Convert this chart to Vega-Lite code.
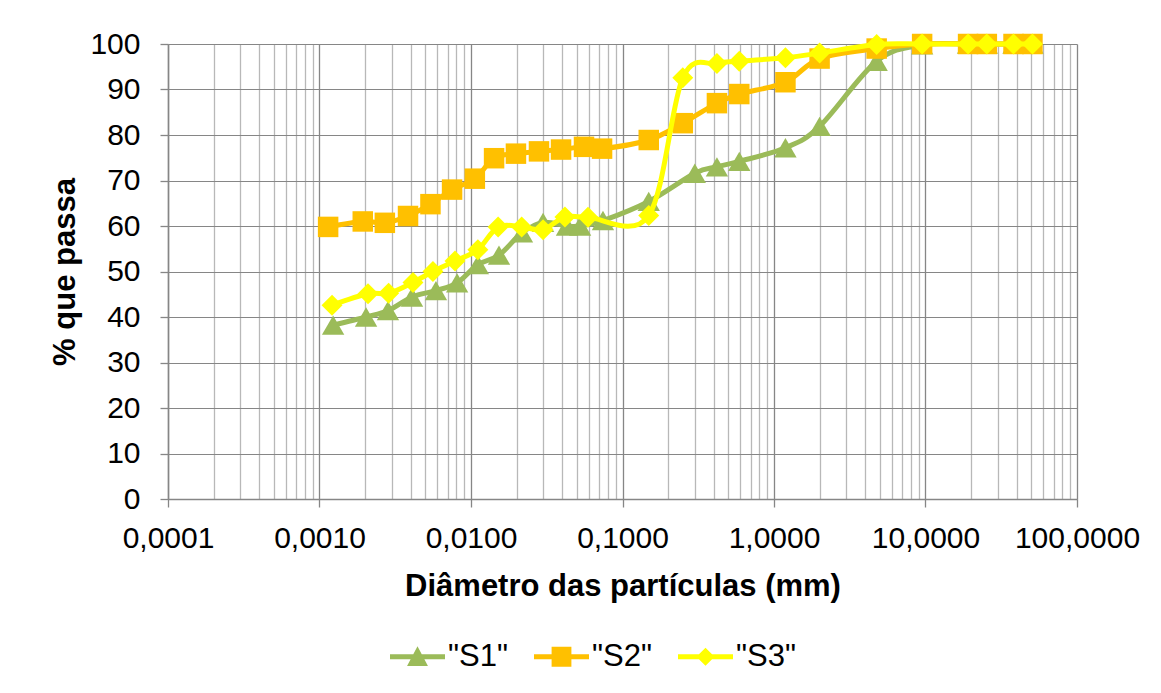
{
  "$schema": "https://vega.github.io/schema/vega-lite/v6.json",
  "width": 909,
  "height": 455,
  "autosize": {"type": "none"},
  "padding": {"left": 168, "top": 44, "right": 84, "bottom": 194},
  "background": "white",
  "config": {"view": {"stroke": null}, "font": "Liberation Sans"},
  "data": {
    "values": [
      {"s": "S1", "d": 0.00123, "p": 38.2},
      {"s": "S1", "d": 0.00203, "p": 40.0},
      {"s": "S1", "d": 0.00283, "p": 41.4},
      {"s": "S1", "d": 0.00408, "p": 44.4},
      {"s": "S1", "d": 0.00587, "p": 45.8},
      {"s": "S1", "d": 0.0081, "p": 47.5},
      {"s": "S1", "d": 0.0111, "p": 51.5},
      {"s": "S1", "d": 0.0153, "p": 53.6},
      {"s": "S1", "d": 0.0217, "p": 58.5},
      {"s": "S1", "d": 0.0299, "p": 60.8},
      {"s": "S1", "d": 0.043, "p": 60.0},
      {"s": "S1", "d": 0.0525, "p": 60.0},
      {"s": "S1", "d": 0.0743, "p": 61.2},
      {"s": "S1", "d": 0.149, "p": 65.4},
      {"s": "S1", "d": 0.30, "p": 71.6},
      {"s": "S1", "d": 0.42, "p": 73.0},
      {"s": "S1", "d": 0.59, "p": 74.2},
      {"s": "S1", "d": 1.19, "p": 77.2},
      {"s": "S1", "d": 2.0, "p": 81.9},
      {"s": "S1", "d": 4.76, "p": 96.2},
      {"s": "S1", "d": 9.5, "p": 99.8},
      {"s": "S1", "d": 19.1, "p": 100},
      {"s": "S1", "d": 25.4, "p": 100},
      {"s": "S1", "d": 38.1, "p": 100},
      {"s": "S1", "d": 50.8, "p": 100},
      {"s": "S2", "d": 0.00114, "p": 59.8},
      {"s": "S2", "d": 0.00193, "p": 61.0},
      {"s": "S2", "d": 0.0027, "p": 60.7},
      {"s": "S2", "d": 0.00384, "p": 62.2},
      {"s": "S2", "d": 0.0054, "p": 64.8},
      {"s": "S2", "d": 0.0075, "p": 68.0},
      {"s": "S2", "d": 0.0106, "p": 70.4},
      {"s": "S2", "d": 0.0142, "p": 74.9},
      {"s": "S2", "d": 0.0198, "p": 75.9},
      {"s": "S2", "d": 0.0281, "p": 76.4},
      {"s": "S2", "d": 0.0393, "p": 76.8},
      {"s": "S2", "d": 0.0557, "p": 77.4},
      {"s": "S2", "d": 0.0733, "p": 77.0},
      {"s": "S2", "d": 0.149, "p": 78.9},
      {"s": "S2", "d": 0.25, "p": 82.6},
      {"s": "S2", "d": 0.42, "p": 87.0},
      {"s": "S2", "d": 0.59, "p": 89.0},
      {"s": "S2", "d": 1.19, "p": 91.6},
      {"s": "S2", "d": 2.0, "p": 96.8},
      {"s": "S2", "d": 4.76, "p": 99.0},
      {"s": "S2", "d": 9.5, "p": 100},
      {"s": "S2", "d": 19.1, "p": 100},
      {"s": "S2", "d": 25.4, "p": 100},
      {"s": "S2", "d": 38.1, "p": 100},
      {"s": "S2", "d": 50.8, "p": 100},
      {"s": "S3", "d": 0.00121, "p": 42.6},
      {"s": "S3", "d": 0.00209, "p": 45.1},
      {"s": "S3", "d": 0.00286, "p": 45.2},
      {"s": "S3", "d": 0.00414, "p": 47.6},
      {"s": "S3", "d": 0.00561, "p": 50.0},
      {"s": "S3", "d": 0.00784, "p": 52.3},
      {"s": "S3", "d": 0.0111, "p": 54.8},
      {"s": "S3", "d": 0.0151, "p": 59.8},
      {"s": "S3", "d": 0.0216, "p": 59.8},
      {"s": "S3", "d": 0.0299, "p": 59.2},
      {"s": "S3", "d": 0.0417, "p": 62.0},
      {"s": "S3", "d": 0.0592, "p": 61.9},
      {"s": "S3", "d": 0.149, "p": 62.3},
      {"s": "S3", "d": 0.25, "p": 92.6},
      {"s": "S3", "d": 0.42, "p": 95.7},
      {"s": "S3", "d": 0.59, "p": 96.2},
      {"s": "S3", "d": 1.19, "p": 97.0},
      {"s": "S3", "d": 2.0, "p": 98.0},
      {"s": "S3", "d": 4.76, "p": 99.9},
      {"s": "S3", "d": 9.5, "p": 100},
      {"s": "S3", "d": 19.1, "p": 100},
      {"s": "S3", "d": 25.4, "p": 100},
      {"s": "S3", "d": 38.1, "p": 100},
      {"s": "S3", "d": 50.8, "p": 100}
    ]
  },
  "layer": [
    {
      "transform": [{"filter": "false"}],
      "mark": {"type": "point"},
      "encoding": {
        "x": {
          "field": "d", "type": "quantitative",
          "scale": {"type": "log", "domain": [0.0001, 100], "nice": false},
          "axis": {
            "orient": "top",
            "values": [0.0002, 0.0003, 0.0004, 0.0005, 0.0006, 0.0007, 0.0008, 0.0009,
                       0.002, 0.003, 0.004, 0.005, 0.006, 0.007, 0.008, 0.009,
                       0.02, 0.03, 0.04, 0.05, 0.06, 0.07, 0.08, 0.09,
                       0.2, 0.3, 0.4, 0.5, 0.6, 0.7, 0.8, 0.9,
                       2, 3, 4, 5, 6, 7, 8, 9,
                       20, 30, 40, 50, 60, 70, 80, 90],
            "grid": true, "gridColor": "#b8b8b8", "gridWidth": 1.3,
            "ticks": false, "labels": false, "domain": false, "title": null
          }
        }
      }
    },
    {
      "encoding": {
        "x": {
          "field": "d", "type": "quantitative",
          "scale": {"type": "log", "domain": [0.0001, 100], "nice": false},
          "axis": {
            "orient": "bottom",
            "values": [0.0001, 0.001, 0.01, 0.1, 1, 10, 100],
            "grid": true, "gridColor": "#868686", "gridWidth": 1.3,
            "domainColor": "#868686", "domainWidth": 1.5,
            "tickColor": "#868686", "tickWidth": 1.3, "tickSize": 8,
            "labelExpr": "replace(format(datum.value, '.4f'), '.', ',')",
            "labelFont": "Liberation Sans", "labelFontSize": 30, "labelColor": "black",
            "labelBaseline": "alphabetic", "labelPadding": 40,
            "labelFlush": false, "labelOverlap": false, "labelBound": false,
            "title": "Diâmetro das partículas (mm)",
            "titleFont": "Liberation Sans", "titleFontSize": 31, "titleFontWeight": "bold",
            "titleColor": "black", "titleBaseline": "alphabetic", "titleY": 96, "titleX": 454.5
          }
        },
        "y": {
          "field": "p", "type": "quantitative",
          "scale": {"domain": [0, 100], "nice": false},
          "axis": {
            "values": [0, 10, 20, 30, 40, 50, 60, 70, 80, 90, 100],
            "grid": true, "gridColor": "#868686", "gridWidth": 1.2,
            "domainColor": "#868686", "domainWidth": 1.5,
            "tickColor": "#868686", "tickWidth": 1.3, "tickSize": 8,
            "labelFont": "Liberation Sans", "labelFontSize": 30, "labelColor": "black",
            "labelPadding": 20, "labelFlush": false, "labelOverlap": false, "labelBound": false,
            "title": "% que passa",
            "titleFont": "Liberation Sans", "titleFontSize": 31, "titleFontWeight": "bold",
            "titleColor": "black", "titleAngle": -90, "titleBaseline": "middle", "titleAlign": "center",
            "titleX": -103, "titleY": 227.5
          }
        }
      },
      "layer": [
        {
          "mark": {"type": "point", "filled": true, "size": 3025, "opacity": 0},
          "encoding": {
            "fill": {
              "field": "s", "type": "nominal",
              "scale": {"domain": ["S1", "S2", "S3"], "range": ["#9BBB59", "#FFC000", "#FFFF00"]},
              "legend": {
                "orient": "none", "legendX": 222, "legendY": 585, "direction": "horizontal",
                "title": null, "padding": 0, "labelFont": "Liberation Sans", "labelFontSize": 31,
                "labelColor": "black", "labelOffset": 3, "columnPadding": 26,
                "symbolSize": 3025, "symbolStrokeWidth": 0, "symbolOpacity": 1,
                "labelExpr": "'\"' + datum.label + '\"'"
              }
            },
            "shape": {
              "field": "s", "type": "nominal",
              "scale": {
                "domain": ["S1", "S2", "S3"],
                "range": [
                  "M-1,-0.09L1,-0.09L1,0.09L-1,0.09Z M0,-0.38L0.38,0.34L-0.38,0.34Z",
                  "M-1,-0.09L1,-0.09L1,0.09L-1,0.09Z M-0.36,-0.36L0.36,-0.36L0.36,0.36L-0.36,0.36Z",
                  "M-1,-0.09L1,-0.09L1,0.09L-1,0.09Z M0,-0.33L0.33,0L0,0.33L-0.33,0Z"
                ]
              },
              "legend": {
                "orient": "none", "legendX": 222, "legendY": 585, "direction": "horizontal",
                "title": null, "padding": 0, "labelFont": "Liberation Sans", "labelFontSize": 31,
                "labelColor": "black", "labelOffset": 3, "columnPadding": 26,
                "symbolSize": 3025, "symbolStrokeWidth": 0, "symbolOpacity": 1,
                "labelExpr": "'\"' + datum.label + '\"'"
              }
            }
          }
        },
        {
          "transform": [{"filter": "datum.s === 'S1'"}],
          "mark": {"type": "line", "interpolate": "cardinal", "strokeWidth": 5, "strokeCap": "round",
                   "point": {"shape": "triangle-up", "size": 500, "filled": true, "strokeWidth": 0, "opacity": 1}},
          "encoding": {
            "color": {"field": "s", "type": "nominal",
                      "scale": {"domain": ["S1", "S2", "S3"], "range": ["#9BBB59", "#FFC000", "#FFFF00"]},
                      "legend": null}
          }
        },
        {
          "transform": [{"filter": "datum.s === 'S2'"}],
          "mark": {"type": "line", "interpolate": "cardinal", "strokeWidth": 5, "strokeCap": "round",
                   "point": {"shape": "square", "size": 420, "filled": true, "strokeWidth": 0, "opacity": 1}},
          "encoding": {
            "color": {"field": "s", "type": "nominal",
                      "scale": {"domain": ["S1", "S2", "S3"], "range": ["#9BBB59", "#FFC000", "#FFFF00"]},
                      "legend": null}
          }
        },
        {
          "transform": [{"filter": "datum.s === 'S3'"}],
          "mark": {"type": "line", "interpolate": "cardinal", "strokeWidth": 5, "strokeCap": "round",
                   "point": {"shape": "diamond", "size": 440, "filled": true, "strokeWidth": 0, "opacity": 1}},
          "encoding": {
            "color": {"field": "s", "type": "nominal",
                      "scale": {"domain": ["S1", "S2", "S3"], "range": ["#9BBB59", "#FFC000", "#FFFF00"]},
                      "legend": null}
          }
        }
      ]
    }
  ],
  "resolve": {"axis": {"x": "independent"}}
}
